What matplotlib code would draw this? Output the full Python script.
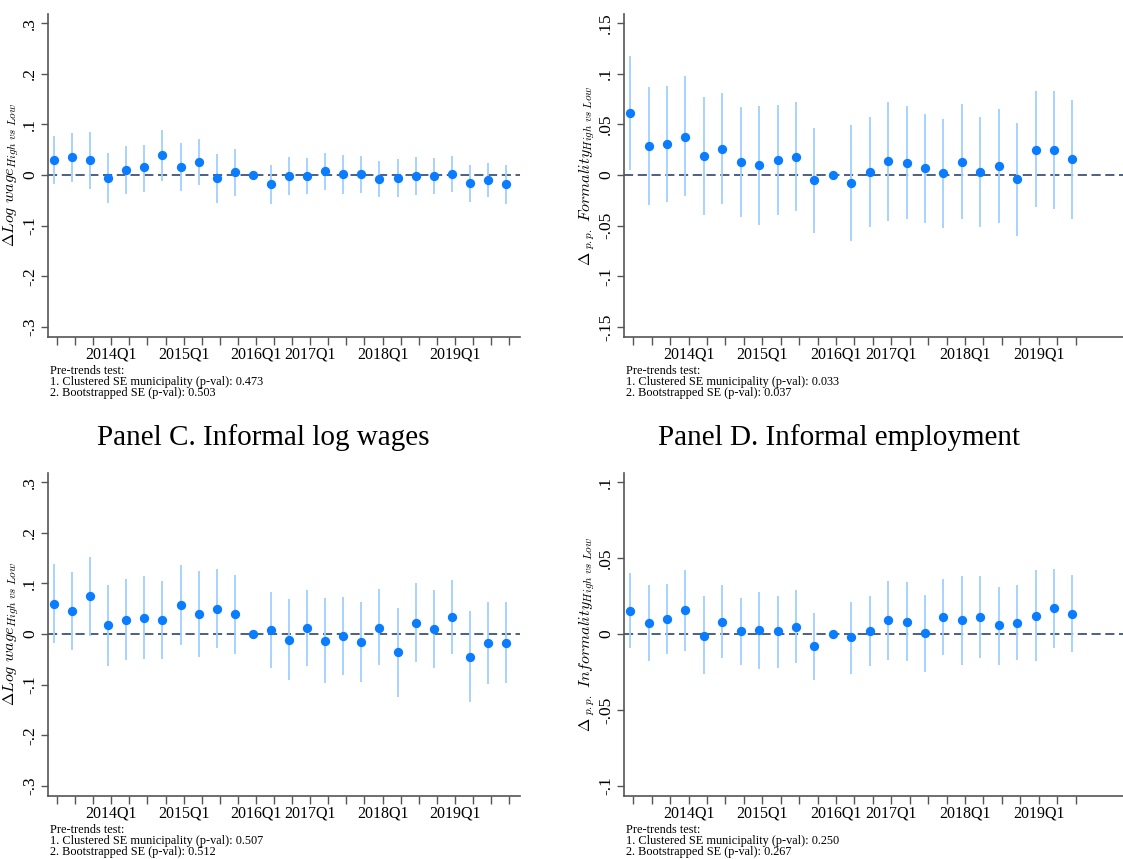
import matplotlib
matplotlib.use('Agg')
import matplotlib.pyplot as plt

plt.rcParams['font.family'] = ['Liberation Serif', 'DejaVu Serif']
plt.rcParams['mathtext.fontset'] = 'cm'

# ---------------------------------------------------------------------------
# Data
# ---------------------------------------------------------------------------
TICK_POS = [3, 7, 11, 14, 18, 22]
TICK_LABELS = ['2014Q1', '2015Q1', '2016Q1', '2017Q1', '2018Q1', '2019Q1']

a_est = [0.030, 0.035, 0.030, -0.006, 0.010, 0.015, 0.040, 0.016, 0.025, -0.006, 0.005, 0.0, -0.018,
         -0.002, -0.002, 0.008, 0.002, 0.001, -0.008, -0.005, -0.002, -0.002, 0.002, -0.016, -0.010, -0.018]
a_hi = [0.077, 0.082, 0.084, 0.044, 0.057, 0.060, 0.089, 0.063, 0.071, 0.041, 0.051, 0.0, 0.020,
        0.035, 0.033, 0.044, 0.039, 0.038, 0.028, 0.032, 0.035, 0.034, 0.038, 0.020, 0.024, 0.020]
a_lo = [-0.018, -0.013, -0.027, -0.056, -0.038, -0.033, -0.012, -0.032, -0.020, -0.055, -0.041, 0.0, -0.057,
        -0.039, -0.038, -0.029, -0.037, -0.036, -0.043, -0.044, -0.039, -0.038, -0.034, -0.053, -0.043, -0.057]

b_est = [0.061, 0.029, 0.031, 0.038, 0.019, 0.026, 0.013, 0.010, 0.015, 0.018, -0.005, 0.0, -0.008,
         0.003, 0.014, 0.012, 0.007, 0.002, 0.013, 0.003, 0.009, -0.004, 0.025, 0.025, 0.016]
b_hi = [0.118, 0.087, 0.088, 0.098, 0.077, 0.081, 0.067, 0.068, 0.069, 0.072, 0.046, 0.0, 0.049,
        0.057, 0.072, 0.068, 0.060, 0.055, 0.070, 0.057, 0.065, 0.051, 0.083, 0.083, 0.074]
b_lo = [0.005, -0.030, -0.027, -0.021, -0.040, -0.029, -0.041, -0.049, -0.040, -0.036, -0.057, 0.0, -0.065,
        -0.051, -0.045, -0.043, -0.047, -0.052, -0.043, -0.051, -0.047, -0.060, -0.032, -0.034, -0.043]

c_est = [0.060, 0.046, 0.075, 0.017, 0.028, 0.031, 0.027, 0.057, 0.040, 0.050, 0.040, 0.0, 0.007,
         -0.011, 0.011, -0.013, -0.004, -0.016, 0.012, -0.036, 0.022, 0.009, 0.033, -0.045, -0.017, -0.017]
c_hi = [0.139, 0.123, 0.152, 0.097, 0.108, 0.114, 0.105, 0.136, 0.125, 0.129, 0.117, 0.0, 0.083,
        0.069, 0.087, 0.071, 0.074, 0.063, 0.088, 0.052, 0.101, 0.086, 0.106, 0.046, 0.064, 0.063]
c_lo = [-0.018, -0.032, -0.003, -0.063, -0.052, -0.050, -0.050, -0.022, -0.046, -0.028, -0.039, 0.0, -0.067,
        -0.091, -0.063, -0.097, -0.081, -0.095, -0.061, -0.124, -0.055, -0.067, -0.039, -0.134, -0.099, -0.097]

d_est = [0.015, 0.007, 0.010, 0.016, -0.001, 0.008, 0.002, 0.003, 0.002, 0.005, -0.008, 0.0, -0.002,
         0.002, 0.009, 0.008, 0.001, 0.011, 0.009, 0.011, 0.006, 0.007, 0.012, 0.017, 0.013]
d_hi = [0.040, 0.032, 0.033, 0.042, 0.025, 0.032, 0.024, 0.028, 0.025, 0.029, 0.014, 0.0, 0.021,
        0.025, 0.035, 0.034, 0.026, 0.036, 0.038, 0.038, 0.031, 0.032, 0.042, 0.043, 0.039]
d_lo = [-0.009, -0.018, -0.013, -0.011, -0.026, -0.016, -0.020, -0.023, -0.022, -0.019, -0.030, 0.0, -0.026,
        -0.021, -0.017, -0.018, -0.025, -0.014, -0.020, -0.016, -0.020, -0.017, -0.018, -0.009, -0.012]

PANELS = [
    dict(est=a_est, lo=a_lo, hi=a_hi, title=None,
         ylabel=r'$\Delta Log\ wage_{High\ vs\ Low}$',
         yticks=[-0.3, -0.2, -0.1, 0, 0.1, 0.2, 0.3], ylabels=['-.3', '-.2', '-.1', '0', '.1', '.2', '.3'],
         ylim=(-0.32, 0.318), pv=('0.473', '0.503')),
    dict(est=b_est, lo=b_lo, hi=b_hi, title=None,
         ylabel=r'$\Delta_{\ p.p.}\ Formality_{High\ vs\ Low}$',
         yticks=[-0.15, -0.1, -0.05, 0, 0.05, 0.1, 0.15],
         ylabels=['-.15', '-.1', '-.05', '0', '.05', '.1', '.15'],
         ylim=(-0.16, 0.159), pv=('0.033', '0.037')),
    dict(est=c_est, lo=c_lo, hi=c_hi, title='Panel C. Informal log wages',
         ylabel=r'$\Delta Log\ wage_{High\ vs\ Low}$',
         yticks=[-0.3, -0.2, -0.1, 0, 0.1, 0.2, 0.3], ylabels=['-.3', '-.2', '-.1', '0', '.1', '.2', '.3'],
         ylim=(-0.32, 0.318), pv=('0.507', '0.512')),
    dict(est=d_est, lo=d_lo, hi=d_hi, title='Panel D. Informal employment',
         ylabel=r'$\Delta_{\ p.p.}\ Informality_{High\ vs\ Low}$',
         yticks=[-0.1, -0.05, 0, 0.05, 0.1], ylabels=['-.1', '-.05', '0', '.05', '.1'],
         ylim=(-0.1065, 0.106), pv=('0.250', '0.267')),
]

W, H = 1123, 859
# axes boxes in pixels: left, top, right, bottom
BOXES = [(48, 14, 520, 337), (624, 14, 1123, 337), (48, 473, 520, 796), (624, 473, 1123, 796)]
XLIMS = [(-0.5, 25.6), (-0.5, 26.57), (-0.5, 25.6), (-0.5, 26.57)]

POINT = '#0a7cff'
CI = '#9fd0ff'
ZERO = '#1c3560'
AXIS = '#555555'

fig = plt.figure(figsize=(W / 100, H / 100), dpi=100)
fig.set_facecolor('white')

for p, box, xl in zip(PANELS, BOXES, XLIMS):
    l, t, r, b = box
    ax = fig.add_axes([l / W, 1 - b / H, (r - l) / W, (b - t) / H])
    n = len(p['est'])
    x = [i - 0.17 for i in range(n)]
    ax.axhline(0, color=ZERO, lw=1.1, ls=(0, (6, 3)), zorder=1)
    ax.vlines(x, p['lo'], p['hi'], color=CI, lw=1.3, zorder=2)
    ax.scatter(x, p['est'], s=45, color=POINT, zorder=3, linewidths=0)

    ax.set_xlim(*xl)
    ax.set_ylim(*p['ylim'])
    ax.set_xticks(range(n), minor=True)
    ax.set_xticks(TICK_POS)
    ax.set_xticklabels(TICK_LABELS, fontsize=11.5)
    ax.tick_params(axis='x', which='both', length=6, width=1, color=AXIS, direction='out', pad=1)
    ax.set_yticks(p['yticks'])
    ax.set_yticklabels(p['ylabels'], rotation=90, va='center', fontsize=12.5)
    ax.tick_params(axis='y', length=5, width=1, color=AXIS, direction='out', pad=2)
    ax.set_ylabel(p['ylabel'], fontsize=11.5, labelpad=1)

    for s in ['top', 'right']:
        ax.spines[s].set_visible(False)
    for s in ['left', 'bottom']:
        ax.spines[s].set_color(AXIS)
        ax.spines[s].set_linewidth(1.2)

    if p['title']:
        fig.text((l + 215) / W, 1 - 438 / H, p['title'], ha='center', va='center', fontsize=21)

    note = ('Pre-trends test:\n'
            f'1. Clustered SE municipality (p-val): {p["pv"][0]}\n'
            f'2. Bootstrapped SE (p-val): {p["pv"][1]}')
    fig.text((l + 2) / W, 1 - (b + 28) / H, note, ha='left', va='top', fontsize=8.8, linespacing=0.9)

fig.savefig('out.png', dpi=100, facecolor='white')
